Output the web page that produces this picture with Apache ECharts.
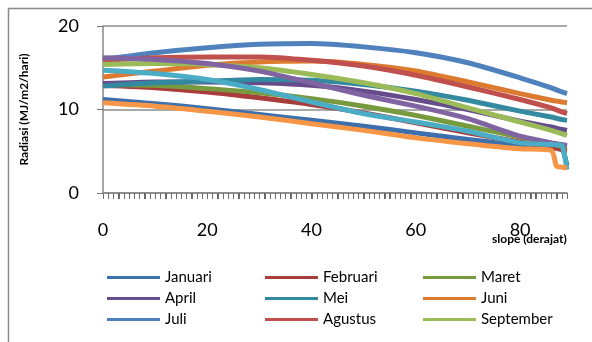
<!DOCTYPE html>
<html>
<head>
<meta charset="utf-8">
<script src="https://cdn.jsdelivr.net/npm/echarts@6/dist/echarts.min.js"></script>
<style>
    html, body { margin: 0; padding: 0; background: #fff; }
    #chart { width: 592px; height: 342px; }
</style>
</head>
<body>
<div id="chart"></div>
<script>
// sudut kemiringan yang dibaca dari grafik
var slopeX = [0, 10, 20, 30, 40, 50, 60, 70, 80, 86, 87, 88, 89];

var januari   = [11.2, 10.7, 10.1, 9.4, 8.7, 8.0, 7.2, 6.4, 5.7, 5.5, 5.45, 5.4, 3.3];
var februari  = [12.9, 12.6, 12.1, 11.4, 10.6, 9.6, 8.4, 7.2, 6.1, 5.5, 5.35, 5.2, 5.1];
var maret     = [13.0, 12.9, 12.5, 12.0, 11.3, 10.4, 9.3, 8.0, 6.7, 5.9, 5.75, 5.6, 5.5];
var april     = [13.1, 13.3, 13.3, 13.2, 12.9, 12.2, 11.2, 10.0, 8.6, 7.9, 7.75, 7.6, 7.5];
var mei       = [12.8, 13.2, 13.4, 13.6, 13.5, 13.0, 12.2, 11.1, 9.8, 9.1, 8.95, 8.8, 8.7];
var juni      = [13.9, 14.6, 15.3, 15.7, 15.8, 15.4, 14.6, 13.3, 11.9, 11.1, 11.0, 10.9, 10.8];
var juli      = [16.0, 16.8, 17.4, 17.8, 17.9, 17.5, 16.8, 15.6, 13.8, 12.6, 12.35, 12.1, 11.9];
var agustus   = [15.9, 16.2, 16.3, 16.3, 15.9, 15.2, 14.1, 12.7, 11.2, 10.2, 9.95, 9.7, 9.5];
var september = [15.4, 15.5, 15.4, 15.0, 14.2, 13.2, 11.9, 10.2, 8.5, 7.5, 7.3, 7.1, 6.9];
var oktober   = [16.2, 16.0, 15.5, 14.6, 13.2, 11.7, 10.4, 8.9, 6.8, 6.0, 5.9, 5.8, 5.7];
var november  = [14.7, 14.3, 13.6, 12.4, 10.9, 9.5, 8.5, 7.4, 6.0, 5.8, 5.75, 5.7, 2.8];
var desember  = [10.8, 10.4, 9.8, 9.1, 8.3, 7.5, 6.6, 5.9, 5.3, 5.1, 3.2, 3.1, 3.0];

var bulan = ['Januari', 'Februari', 'Maret', 'April', 'Mei', 'Juni',
             'Juli', 'Agustus', 'September', 'Oktober', 'November', 'Desember'];
var nilai = [januari, februari, maret, april, mei, juni,
             juli, agustus, september, oktober, november, desember];
var warna = ['#3d6fad', '#a93d3b', '#789a3f', '#674c8c', '#33899f', '#dc7a30',
             '#4f81bd', '#c0504d', '#9bbb59', '#8064a2', '#4bacc6', '#f79646'];

// label sumbu x: 0..89 (kategori tiap derajat)
var slopes = [];
for (var i = 0; i < 90; i++) { slopes.push(String(i)); }

var font = 'Lato, "Liberation Sans", sans-serif';

var series = [];
bulan.forEach(function(nama, idx){
    var data = [];
    slopeX.forEach(function(x, k){
        data.push([x, nilai[idx][k]]);
    });
    series.push({
        name: nama,
        type: 'line',
        data: data,
        showSymbol: false,
        symbol: 'none',
        smooth: 0.2,
        lineStyle: { width: 5, color: warna[idx], join: 'round' },
        itemStyle: { color: warna[idx] },
        animation: false
    });
});

// tick kecil tiap kategori di bawah sumbu x (kotak 1px)
series.push({
    type: 'custom',
    name: 'tick',
    silent: true,
    clip: false,
    z: 5,
    animation: false,
    data: slopes.map(function(s, k){ return [k, 0]; }),
    renderItem: function(params, api){
        var p = api.coord([api.value(0), 0]);
        return {
            type: 'rect',
            shape: { x: Math.round(p[0]), y: Math.round(p[1]), width: 1, height: 6 },
            style: { fill: '#6e6e6e' }
        };
    }
});

// legenda 3 kolom, Oktober-Desember tidak tampil
function legendCol(left, names){
    return {
        orient: 'vertical',
        left: left,
        top: 262,
        icon: 'rect',
        itemWidth: 53,
        itemHeight: 3,
        itemGap: 0,
        data: names,
        textStyle: { fontFamily: font, fontSize: 15, color: '#000', lineHeight: 21, padding: [0, 0, 0, 0] },
        selectedMode: false
    };
}

var option = {
    animation: false,
    color: warna,
    grid: { left: 103, right: 25, top: 26, bottom: 149, outerBoundsMode: 'none', containLabel: false },
    legend: [
        legendCol(102, ['Januari', 'April', 'Juli']),
        legendCol(260, ['Februari', 'Mei', 'Agustus']),
        legendCol(418, ['Maret', 'Juni', 'September'])
    ],
    xAxis: {
        type: 'category',
        data: slopes,
        boundaryGap: false,
        axisLine: { show: true, lineStyle: { color: '#868686', width: 1.5 } },
        axisTick: { show: true, interval: 0, inside: false, length: 6, lineStyle: { color: '#666', width: 1 } },
        axisLabel: { interval: 19, margin: 28, fontFamily: font, fontSize: 18, color: '#000' },
        splitLine: { show: false }
    },
    yAxis: {
        type: 'value',
        min: 0,
        max: 20,
        interval: 10,
        name: 'Radiasi (MJ/m2/hari)',
        nameLocation: 'middle',
        nameGap: 73,
        nameTextStyle: { fontFamily: font, fontSize: 12, fontWeight: 'bold', color: '#000' },
        axisLine: { show: true, lineStyle: { color: '#868686', width: 1.5 } },
        axisTick: { show: true, inside: false, length: 6, lineStyle: { color: '#777', width: 1 } },
        axisLabel: { margin: 24, fontFamily: font, fontSize: 18, color: '#000' },
        splitLine: { lineStyle: { color: '#8c8c8c', width: 1.5 } }
    },
    graphic: [{
        type: 'rect',
        shape: { x: 8.5, y: 8.5, width: 620, height: 400 },
        style: { fill: null, stroke: '#8a8a8a', lineWidth: 1.5 },
        silent: true
    }, {
        // judul sumbu x
        type: 'text',
        left: 492,
        top: 233,
        style: { text: 'slope (derajat)', fill: '#000', font: 'bold 12px ' + font }
    }],
    series: series
};

var chart = echarts.init(document.getElementById('chart'));
chart.setOption(option);
</script>
</body>
</html>
